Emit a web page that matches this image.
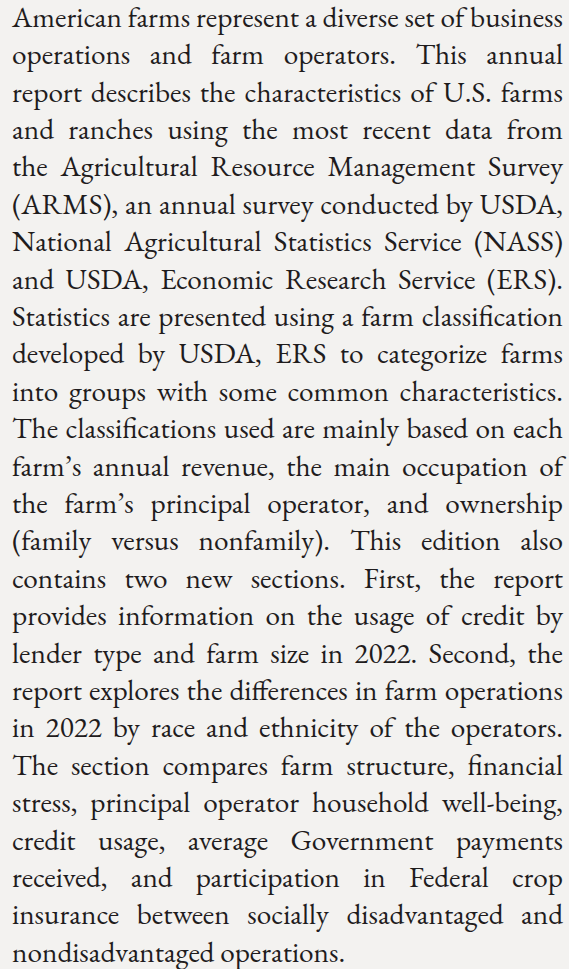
<!DOCTYPE html>
<html>
	<head>
		<meta charset="UTF-8" />
		<title>Farm structure summary</title>
		<style type="text/css">
			html, body {
				margin: 0;
				padding: 0;
				background: #f3f2f0;
				overflow: hidden;
			}
			.textBox {
				position: absolute;
				left: 12px;
				top: 0px;
				width: 551px;
				height: 969px;
				font-size: 24px;
				color: #1f1c1d;
			}
			.line {
				position: absolute;
				left: 0;
				white-space: nowrap;
				line-height: 1.1em;
			}
			.line span {
				display: inline-block;
				transform-origin: 0 0;
			}
		</style>
	</head>
	<body>
		<div class="textBox" id="textBox"></div>
		<script src="https://cdn.jsdelivr.net/npm/chart.js"></script>
		<script>
			//text lines, as broken in the picture
			const lines = [
				'American farms represent a diverse set of business',
				'operations and farm operators. This annual',
				'report describes the characteristics of U.S. farms',
				'and ranches using the most recent data from',
				'the Agricultural Resource Management Survey',
				'(ARMS), an annual survey conducted by USDA,',
				'National Agricultural Statistics Service (NASS)',
				'and USDA, Economic Research Service (ERS).',
				'Statistics are presented using a farm classification',
				'developed by USDA, ERS to categorize farms',
				'into groups with some common characteristics.',
				'The classifications used are mainly based on each',
				'farm\u2019s annual revenue, the main occupation of',
				'the farm\u2019s principal operator, and ownership',
				'(family versus nonfamily). This edition also',
				'contains two new sections. First, the report',
				'provides information on the usage of credit by',
				'lender type and farm size in 2022. Second, the',
				'report explores the differences in farm operations',
				'in 2022 by race and ethnicity of the operators.',
				'The section compares farm structure, financial',
				'stress, principal operator household well-being,',
				'credit usage, average Government payments',
				'received, and participation in Federal crop',
				'insurance between socially disadvantaged and',
				'nondisadvantaged operations.'
			];

			//pick the first serif face that is really there
			const ctx = document.createElement('canvas').getContext('2d');
			function hasFont(name) {
				const probe = 'AMmwiltfg 0123 The classifications';
				ctx.font = '40px monospace';
				const a = ctx.measureText(probe).width;
				ctx.font = '40px "' + name + '", monospace';
				const b = ctx.measureText(probe).width;
				return a != b;
			}
			const serifs = ['EB Garamond', 'Garamond', 'Liberation Serif', 'Tinos', 'Times New Roman', 'Noto Serif', 'DejaVu Serif'];
			const face = serifs.find(hasFont) || 'serif';

			const box = document.getElementById('textBox');
			box.style.fontFamily = '"' + face + '", serif';
			const boxWidth = 551;
			const lineStep = 37.4;
			const firstBaseline = 27;

			//size the font so the tightest line just fills the measure
			ctx.font = '24px "' + face + '", serif';
			let widest = 0;
			lines.forEach(txt => { widest = Math.max(widest, ctx.measureText(txt).width); });
			const size = 24 * boxWidth / widest;
			box.style.fontSize = size + 'px';

			//where the baseline sits inside one line box
			ctx.font = size + 'px "' + face + '", serif';
			const m = ctx.measureText('Hg');
			const asc = m.fontBoundingBoxAscent, desc = m.fontBoundingBoxDescent;
			const lh = 1.1 * size;
			const baseInLine = (lh - (asc + desc)) / 2 + asc;

			lines.forEach((txt, i) => {
				const div = document.createElement('div');
				div.className = 'line';
				div.style.top = (firstBaseline + i * lineStep - baseInLine) + 'px';
				const span = document.createElement('span');
				span.textContent = txt;
				div.appendChild(span);
				box.appendChild(div);

				const natural = span.getBoundingClientRect().width;
				const gaps = txt.split(' ').length - 1;
				const last = i == lines.length - 1;
				if (natural > boxWidth) {
					span.style.transform = 'scaleX(' + (boxWidth / natural) + ')';
				} else if (!last && gaps > 0) {
					//justify by stretching the word gaps
					span.style.wordSpacing = ((boxWidth - natural) / gaps) + 'px';
				}
			});
		</script>
	</body>
</html>
